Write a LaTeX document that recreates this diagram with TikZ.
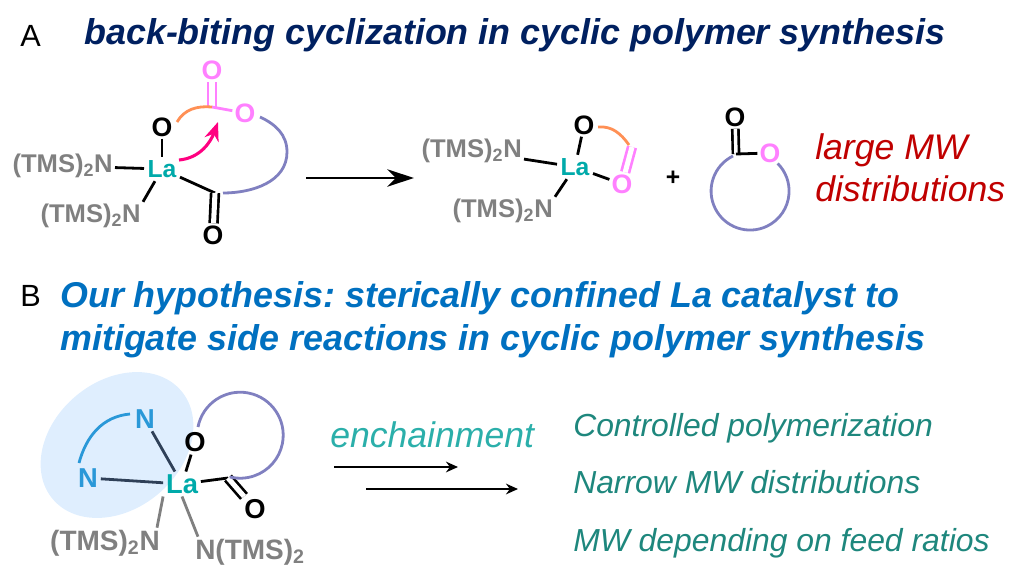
\documentclass[tikz,border=0pt]{standalone}
\usepackage{fontspec}
\setmainfont{Liberation Sans}
\usetikzlibrary{positioning, calc, shapes.geometric, arrows.meta}
\definecolor{titleNavy}{RGB}{0, 32, 96}
\definecolor{titleBlue}{RGB}{0, 112, 192}
\definecolor{lossRed}{RGB}{192, 0, 0}
\definecolor{laTeal}{RGB}{0, 170, 170}
\definecolor{stepTeal}{RGB}{43, 175, 170}
\definecolor{gainTeal}{RGB}{30, 135, 125}
\definecolor{esterPink}{RGB}{255, 128, 255}
\definecolor{attackPink}{RGB}{255, 0, 128}
\definecolor{chainOrange}{RGB}{255, 144, 85}
\definecolor{chainPurple}{RGB}{128, 128, 192}
\definecolor{ligandBlue}{RGB}{42, 152, 216}
\definecolor{pocketBlue}{RGB}{223, 238, 254}
\definecolor{ligandDark}{RGB}{47, 64, 88}
\newcommand{\tmsN}{(TMS)\textsubscript{2}N}
\newcommand{\Ntms}{N(TMS)\textsubscript{2}}

\begin{document}
\frenchspacing
\begin{tikzpicture}[
    x=0.75pt, y=0.75pt,
    letter/.style={font=\fontsize{23}{26}\selectfont, anchor=base west, inner sep=0pt},
    headline/.style={font=\fontsize{26.9}{30}\selectfont\bfseries\itshape, anchor=base west, inner sep=0pt},
    note/.style={font=\fontsize{26.7}{30}\selectfont\itshape, anchor=base west, inner sep=0pt},
    gain/.style={font=\fontsize{23.9}{28}\selectfont\itshape, anchor=base west, inner sep=0pt, text=gainTeal},
    atom/.style={font=\fontsize{18.5}{22}\selectfont\bfseries, inner sep=2.5pt},
    oxy/.style={font=\fontsize{20}{24}\selectfont\bfseries, inner sep=1.5pt},
    bigatom/.style={font=\fontsize{20.5}{24}\selectfont\bfseries, inner sep=2pt},
    tms/.style={font=\fontsize{19.2}{24}\selectfont\bfseries, inner sep=1.5pt, text=gray},
    bigtms/.style={font=\fontsize{21}{26}\selectfont\bfseries, inner sep=1.5pt, text=gray},
    bond/.style={line width=2.1pt},
    twobond/.style={line width=2pt, double distance=3.8pt},
    arc line/.style={line width=2.1pt},
    arrow/.style={-{Stealth[length=20pt, width=13pt]}, line width=2pt},
    thin arrow/.style={-{Stealth[length=9pt, width=8pt]}, line width=1.8pt},
  ]
    \useasboundingbox (0,-578) rectangle (1028,0);

    % Panel A
    \node[letter] (LA) at (20,-46) {A};
    \node[headline, text=titleNavy] (TA) at (84,-44) {back-biting cyclization in cyclic polymer synthesis};

    % Panel A: starting complex
    \node[atom, text=laTeal] (La1) at (162,-169) {La};
    \node[oxy] (O1) at (162,-127) {O};
    \node[oxy, text=esterPink] (O2) at (212,-70) {O};
    \node[oxy, text=esterPink] (O3) at (245,-113) {O};
    \node[oxy] (O4) at (213,-235) {O};
    \node[tms, anchor=east] (N1) at (115,-166) {\tmsN};
    \node[tms, anchor=east] (N2) at (143,-216) {\tmsN};
    \coordinate (C1) at (212,-107);
    \coordinate (C2) at (215,-193);
    \coordinate (A1) at (177,-122);
    \coordinate (A2) at (260,-117);
    \coordinate (A3) at (287,-152);
    \coordinate (A4) at (223,-193);
    \coordinate (H1) at (179,-160);
    \coordinate (H2) at (218,-122);
    \draw[bond] (O1) -- (La1);
    \draw[bond] (N1) -- (La1);
    \draw[bond] (N2.north east) -- (La1);
    \draw[bond] (La1) -- (C2);
    \draw[twobond, draw=black, double=white] (C2) -- (O4);
    \draw[twobond, draw=esterPink, double=white] (C1) -- (O2);
    \draw[bond, esterPink] (C1) -- (O3);
    \draw[arc line, chainOrange] (A1) to[out=60, in=175] (C1);
    \draw[arc line, chainPurple] (A2) to[out=-25, in=90] (A3) to[out=-90, in=0] (A4);
    \draw[-{Stealth[length=14pt, width=11pt]}, line width=2.3pt, attackPink] (H1) to[out=5, in=-110] (H2);

    \coordinate (R1) at (306,-178);
    \coordinate (R2) at (414,-178);
    \draw[arrow] (R1) -- (R2);

    % Panel A: products
    \node[atom, text=laTeal] (La2) at (575,-167) {La};
    \node[oxy] (O5) at (584,-125) {O};
    \node[oxy, text=esterPink] (O6) at (622,-184) {O};
    \node[tms, anchor=east] (N3) at (524,-151) {\tmsN};
    \node[tms, anchor=east] (N4) at (555,-211) {\tmsN};
    \coordinate (C3) at (632,-147);
    \coordinate (B1) at (598,-127);
    \coordinate (B2) at (629,-145);
    \draw[bond] (O5) -- (La2);
    \draw[bond] (N3) -- (La2);
    \draw[bond] (N4.north east) -- (La2);
    \draw[bond] (La2) -- (O6);
    \draw[twobond, draw=esterPink, double=white] (C3) -- (O6);
    \draw[arc line, chainOrange] (B1) to[out=5, in=125] (B2);
    \node[atom] (PL) at (673,-178) {+};

    \node[oxy] (O7) at (735,-117) {O};
    \node[oxy, text=esterPink] (O8) at (770,-153) {O};
    \coordinate (C4) at (736,-154);
    \coordinate (G0) at (733,-156);
    \draw[twobond, double distance=2.6pt, draw=black, double=white] (C4) -- (O7);
    \draw[bond] (C4) -- (O8);
    \draw[arc line, chainPurple] (G0) arc[start angle=116, end angle=405, radius=39];
    \node[note, text=lossRed] (LOSS1) at (815,-159) {large MW};
    \node[note, text=lossRed] (LOSS2) at (815,-201) {distributions};

    % Panel B
    \node[letter] (LB) at (20,-306) {B};
    \node[headline, text=titleBlue] (TB1) at (60,-307) {Our hypothesis: sterically confined La catalyst to};
    \node[headline, text=titleBlue] (TB2) at (60,-350) {mitigate side reactions in cyclic polymer synthesis};

    % Panel B: confined complex
    \fill[pocketBlue, rotate around={40:(117,-445)}] (117,-445) ellipse [x radius=84, y radius=64];
    \node[bigatom, text=laTeal] (La3) at (182,-484) {La};
    \node[bigatom, text=ligandBlue] (N5) at (145,-419) {N};
    \node[bigatom, text=ligandBlue] (N6) at (88,-478) {N};
    \node[bigatom] (O9) at (195,-442) {O};
    \node[bigatom] (O10) at (255,-509) {O};
    \node[bigtms, anchor=east] (N7) at (162,-543) {\tmsN};
    \node[bigtms, anchor=west] (N8) at (193,-552) {\Ntms};
    \coordinate (C5) at (228,-478);
    \coordinate (D1) at (79,-463);
    \coordinate (D2) at (130,-414);
    \coordinate (E1) at (198,-427);
    \draw[bond, ligandDark] (N5) -- (La3);
    \draw[bond, ligandDark] (N6) -- (La3);
    \draw[bond] (O9) -- (La3);
    \draw[bond] (La3) -- (C5);
    \draw[bond, gray] ($(N7.north east)+(-5,0)$) -- (La3.south west);
    \draw[bond, gray] ($(N8.north west)+(5,0)$) -- (La3.south);
    \draw[twobond, draw=black, double=white] (C5) -- (O10);
    \draw[arc line, ligandBlue] (D1) to[out=75, in=185] (D2);
    \draw[arc line, chainPurple] (E1) arc[start angle=169, end angle=-104, radius=43];

    \node[note, text=stepTeal] (STEP) at (330,-447) {enchainment};
    \coordinate (S1) at (334,-467);
    \coordinate (S2) at (458,-467);
    \coordinate (S3) at (366,-489);
    \coordinate (S4) at (518,-489);
    \draw[thin arrow] (S1) -- (S2);
    \draw[thin arrow] (S3) -- (S4);

    % Outcomes
    \node[gain] (G1) at (573,-436) {Controlled polymerization};
    \node[gain] (G2) at (573,-493) {Narrow MW distributions};
    \node[gain] (G3) at (573,-551) {MW depending on feed ratios};
\end{tikzpicture}
\end{document}
